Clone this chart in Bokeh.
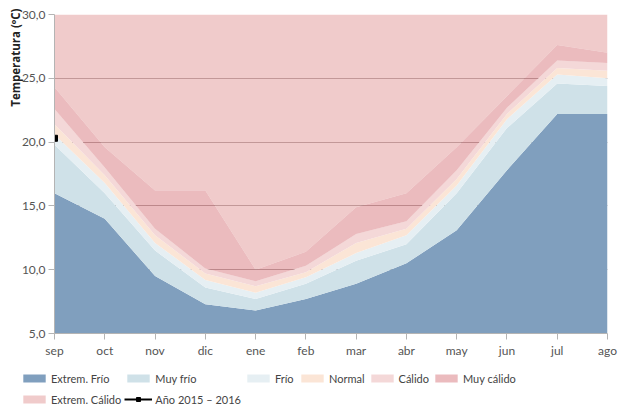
from bokeh.plotting import figure
from bokeh.layouts import column
from bokeh.models import Range1d, FixedTicker, Legend, LegendItem, Title
from bokeh.embed import file_html
from bokeh.resources import INLINE

# ---- data ----
months = ["sep", "oct", "nov", "dic", "ene", "feb", "mar", "abr", "may", "jun", "jul", "ago"]
floor_values = [5.0, 5.0, 5.0, 5.0, 5.0, 5.0, 5.0, 5.0, 5.0, 5.0, 5.0, 5.0]
extrem_frio = [16.0, 14.0, 9.5, 7.3, 6.8, 7.7, 8.9, 10.5, 13.1, 17.8, 22.2, 22.2]
muy_frio = [19.8, 16.0, 11.5, 8.6, 7.7, 8.9, 10.7, 12.0, 16.0, 21.1, 24.6, 24.4]
frio = [20.6, 16.8, 12.1, 9.2, 8.2, 9.4, 11.3, 12.7, 16.6, 21.8, 25.3, 25.0]
normal = [21.4, 17.4, 12.7, 9.7, 8.7, 9.8, 12.1, 13.2, 17.1, 22.2, 25.8, 25.6]
calido = [22.6, 18.0, 13.2, 10.1, 9.1, 10.3, 12.8, 13.8, 17.8, 22.7, 26.4, 26.2]
muy_calido = [24.3, 19.6, 16.2, 16.2, 10.0, 11.4, 14.9, 16.0, 19.6, 23.6, 27.6, 27.0]
extrem_calido = [30.0, 30.0, 30.0, 30.0, 30.0, 30.0, 30.0, 30.0, 30.0, 30.0, 30.0, 30.0]

anio_months = ["sep"]
anio_values = [20.3]

y_ticks = [5, 10, 15, 20, 25, 30]
y_tick_labels = ["5,0", "10,0", "15,0", "20,0", "25,0", "30,0"]

x = list(range(len(months)))
anio_x = [months.index(m) for m in anio_months]

FONT = "Lato"

p = figure(width=623, height=360, output_backend="svg", toolbar_location=None,
           x_range=Range1d(x[0], x[-1]), y_range=Range1d(y_ticks[0], y_ticks[-1]),
           min_border_left=54, min_border_right=16, min_border_top=14,
           min_border_bottom=27)
p.outline_line_color = None
p.background_fill_color = "white"
p.border_fill_color = "white"

bands = [
    ("Extrem. Frío", floor_values, extrem_frio, "#809fbe", 1.0),
    ("Muy frío", extrem_frio, muy_frio, "#cfe1e8", 1.0),
    ("Frío", muy_frio, frio, "#e6eff3", 1.0),
    ("Normal", frio, normal, "#fbe5d6", 1.0),
    ("Cálido", normal, calido, "#f4d8d8", 1.0),
    ("Muy cálido", calido, muy_calido, "#de8e93", 0.6),
    ("Extrem. Cálido", muy_calido, extrem_calido, "#e6a8a8", 0.6),
]

for name, lo, hi, color, alpha in bands:
    p.varea(x=x, y1=lo, y2=hi, fill_color=color, fill_alpha=alpha)

p.line(x=anio_x, y=anio_values, line_color="black", line_width=2)
p.scatter(x=anio_x, y=anio_values, marker="square", size=6,
          fill_color="black", line_color="black")

# grid
p.xgrid.grid_line_color = None
p.ygrid.ticker = FixedTicker(ticks=y_ticks)
p.ygrid.grid_line_color = "#8c8080"
p.ygrid.grid_line_width = 1

# axes
p.yaxis.ticker = FixedTicker(ticks=y_ticks)
p.yaxis.major_label_overrides = dict(zip(y_ticks, y_tick_labels))
p.xaxis.ticker = FixedTicker(ticks=x)
p.xaxis.major_label_overrides = dict(zip(x, months))
for ax in (p.xaxis[0], p.yaxis[0]):
    ax.axis_line_color = "#b4b4b4"
    ax.major_tick_line_color = "#b4b4b4"
    ax.major_tick_out = 6
    ax.major_tick_in = 0
    ax.minor_tick_line_color = None
    ax.major_label_text_font = FONT
    ax.major_label_text_font_size = "12px"
    ax.major_label_text_color = "#555555"
    ax.major_label_standoff = 3

# y-axis title, aligned to the top of the frame
ytitle = Title(text="Temperatura (ºC)", align="right", offset=-6,
               text_font="Open Sans", text_font_style="bold",
               text_font_size="11.5px", text_color="#222222", standoff=-8)
p.add_layout(ytitle, "left")

# ---- legend strip below the chart ----
lg = figure(width=623, height=48, output_backend="svg", toolbar_location=None,
            x_range=Range1d(0, 1), y_range=Range1d(0, 1),
            x_axis_type=None, y_axis_type=None, min_border=0)
lg.frame_align = False
lg.outline_line_color = None
lg.xgrid.visible = False
lg.ygrid.visible = False

# legend proxies: kept outside the visible range of the legend strip
proxy_x = [5.0, 6.0]
proxy_lo = [5.0, 5.0]
proxy_hi = [6.0, 6.0]

items = []
for name, lo, hi, color, alpha in bands:
    r = lg.varea(x=proxy_x, y1=proxy_lo, y2=proxy_hi, fill_color=color, fill_alpha=alpha)
    items.append(LegendItem(label=name, renderers=[r]))
rl = lg.line(x=proxy_x, y=proxy_lo, line_color="black", line_width=2)
rs = lg.scatter(x=proxy_x, y=proxy_lo, marker="square", size=6,
                fill_color="black", line_color="black")
items.append(LegendItem(label="Año 2015 – 2016", renderers=[rl, rs]))

legend = Legend(items=items, location=(20, 0), orientation="horizontal", ncols=6,
                glyph_width=28, glyph_height=10, label_height=18, label_standoff=3,
                spacing=3, padding=0, margin=0,
                background_fill_alpha=0, border_line_color=None,
                label_text_font=FONT, label_text_font_size="11px",
                label_text_color="#444444")
lg.add_layout(legend, "center")

layout = column(p, lg, spacing=0)
open("out.html", "w").write(file_html(layout, INLINE))
